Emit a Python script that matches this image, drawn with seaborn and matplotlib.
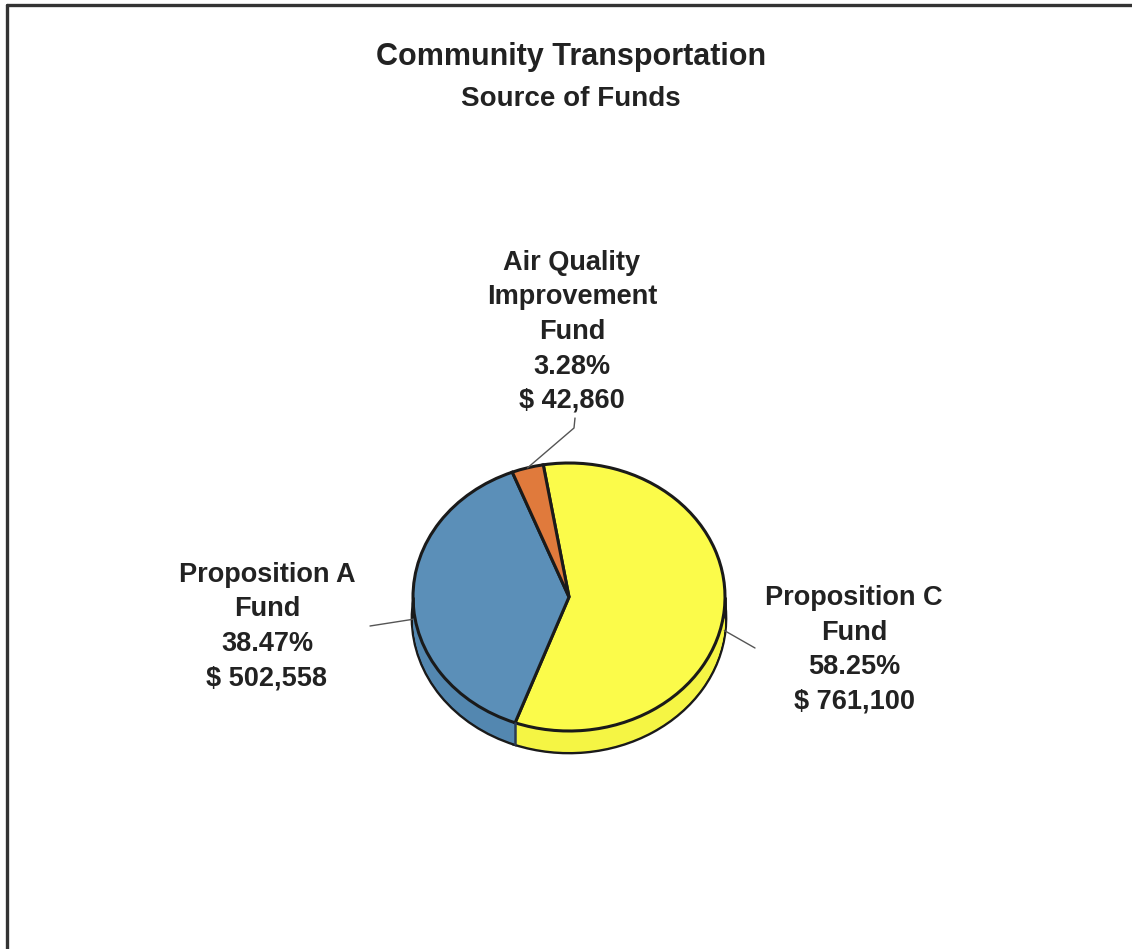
import numpy as np
import matplotlib
matplotlib.use("Agg")
import matplotlib.pyplot as plt
from matplotlib.lines import Line2D
import seaborn as sns

# Funding sources and amounts (USD)
sources = ["Proposition C\nFund", "Proposition A\nFund", "Air Quality\nImprovement\nFund"]
amounts = [761100, 502558, 42860]
slice_colors = ["#FBFB4A", "#5B8FB8", "#E07A3C"]
side_colors = ["#F5F544", "#5387B0", "#D87236"]

title_main = "Community Transportation"
title_sub = "Source of Funds"

sns.set_theme(style="white")
plt.rcParams["font.family"] = ["Liberation Sans", "DejaVu Sans"]

W, H = 1132, 949
fig = plt.figure(figsize=(W / 100, H / 100), dpi=100)
fig.patch.set_facecolor("white")


def fx(px):
    return px / W


def fy(py):
    return 1 - py / H


# Pie geometry (pixels): centre, horizontal and vertical semi-axes, thickness
cx, cy, a, b, depth_px = 569, 597, 156, 134, 21
k = 1.3
ax = fig.add_axes([fx(cx - a * k), fy(cy + b * k), 2 * a * k / W, 2 * b * k / H])
depth = depth_px / b
start = 99.5

pie_kw = dict(startangle=start, counterclock=False, radius=1.0)
# bottom face with outline
ax.pie(amounts, colors=side_colors,
       wedgeprops=dict(edgecolor="#1a1a1a", linewidth=3.4), center=(0, -depth), **pie_kw)
# solid side built from stacked layers
for t in np.linspace(depth, 0.004, 28):
    ax.pie(amounts, colors=side_colors, wedgeprops=dict(linewidth=0), center=(0, -t), **pie_kw)
# top face
wedges, _ = ax.pie(amounts, colors=slice_colors,
                   wedgeprops=dict(edgecolor="#1a1a1a", linewidth=2.2), center=(0, 0), **pie_kw)
ax.set_aspect("auto")
ax.set_xlim(-k, k)
ax.set_ylim(-k, k)
ax.axis("off")

# side edges: silhouette and front slice boundary
for xs in (-1, 1):
    ax.plot([xs, xs], [0, -depth], color="#1a1a1a", lw=2, solid_capstyle="butt")
total = sum(amounts)
fracs = [v / total for v in amounts]
bound = np.deg2rad(start - 360 * fracs[0])
bx, by = np.cos(bound), np.sin(bound)
ax.plot([bx, bx], [by, by - depth], color="#2a3a55", lw=1.8)

# mid-angles for leader anchors
mids = []
acc = start
for f in fracs:
    mids.append(np.deg2rad(acc - 180 * f))
    acc -= 360 * f

label_pos = [(854, 598), (267, 575), (572, 263)]
line_h = 34.5
for name, v, f, (lx, ly) in zip(sources, amounts, fracs, label_pos):
    lines = name.split("\n") + [f"{f*100:.2f}%", f"$ {v:,}"]
    for i, s in enumerate(lines):
        fig.text(fx(lx), fy(ly + i * line_h), s, ha="center", va="center",
                 fontsize=19.5, fontweight="bold", color="#222222")

lead_kw = dict(color="#555555", lw=1.0, clip_on=False)
# Proposition C leader
ac = (np.cos(mids[0]), np.sin(mids[0]) - depth)
ax.plot([ac[0], (755 - cx) / a], [ac[1], (cy - 648) / b], **lead_kw)
# Proposition A leader
aa = (np.cos(mids[1]), np.sin(mids[1]) - depth)
ax.plot([aa[0], (370 - cx) / a], [aa[1], (cy - 626) / b], **lead_kw)
# Air Quality leader (with elbow)
aq = (np.cos(mids[2]), np.sin(mids[2]))
ax.plot([aq[0], (574 - cx) / a, (575 - cx) / a],
        [aq[1], (cy - 428) / b, (cy - 418) / b], **lead_kw)

# titles
fig.text(fx(571), fy(57), title_main, ha="center", va="center",
         fontsize=22, fontweight="bold", color="#222222")
fig.text(fx(571), fy(99), title_sub, ha="center", va="center",
         fontsize=20, fontweight="bold", color="#222222")

# frame (top and left edges)
fig.add_artist(Line2D([fx(7), 1.0], [fy(5), fy(5)], color="#333333", lw=2.4,
                      transform=fig.transFigure))
fig.add_artist(Line2D([fx(7), fx(7)], [fy(5), 0.0], color="#333333", lw=2.4,
                      transform=fig.transFigure))

fig.savefig("out.png", dpi=100, facecolor="white")
